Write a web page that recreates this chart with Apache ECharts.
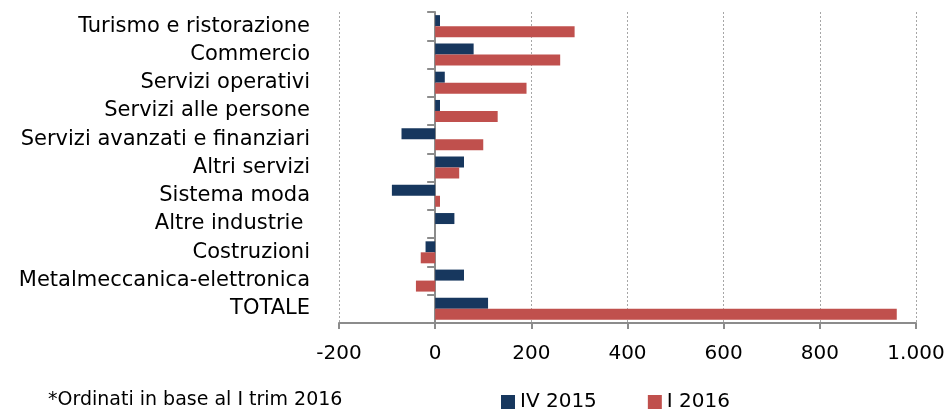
<!DOCTYPE html>
<html>
<head>
<meta charset="utf-8">
<script src="https://cdn.jsdelivr.net/npm/echarts@6/dist/echarts.min.js"></script>
<style>
    html, body { margin: 0; padding: 0; background: #fff; }
    #chart { width: 949px; height: 410px; }
</style>
</head>
<body>
<div id="chart"></div>
<script>
// categories, top to bottom
const categories = [
    'Turismo e ristorazione',
    'Commercio',
    'Servizi operativi',
    'Servizi alle persone',
    'Servizi avanzati e finanziari',
    'Altri servizi',
    'Sistema moda',
    'Altre industrie ',
    'Costruzioni',
    'Metalmeccanica-elettronica',
    'TOTALE'
];
const iv2015 = [10, 80, 20, 10, -70, 60, -90, 40, -20, 60, 110];
const i2016 = [290, 260, 190, 130, 100, 50, 10, 0, -30, -40, 960];
const xTicks = [-200, 0, 200, 400, 600, 800, 1000];

const font = '"DejaVu Sans", sans-serif';
const axisGray = '#8c8c8c';

const myChart = echarts.init(document.getElementById('chart'));

const option = {
    animation: false,
    textStyle: { fontFamily: font },
    grid: { left: 339, right: 33, top: 12, bottom: 87 },
    legend: {
        left: 496,
        top: 387,
        icon: 'rect',
        itemWidth: 14,
        itemHeight: 14,
        itemGap: 51,
        textStyle: { fontSize: 20, color: '#000', fontFamily: font },
        data: ['IV 2015', 'I 2016']
    },
    graphic: [{
        type: 'text',
        left: 48,
        top: 391,
        style: { text: '*Ordinati in base al I trim 2016', fontSize: 19, fill: '#000', fontFamily: font }
    }],
    xAxis: {
        type: 'value',
        min: xTicks[0],
        max: xTicks[xTicks.length - 1],
        interval: 200,
        axisLine: { show: true, onZero: false, lineStyle: { color: axisGray, width: 2 } },
        axisTick: { show: true, length: 6, lineStyle: { color: axisGray, width: 2 } },
        axisLabel: {
            fontSize: 20,
            color: '#000',
            margin: 21,
            formatter: v => String(v).replace(/\B(?=(\d{3})+(?!\d))/g, '.')
        },
        splitLine: { show: true, lineStyle: { color: '#a6a6a6', type: [2, 2], width: 1 } }
    },
    yAxis: [
        {
            // zero line with ticks between categories
            type: 'category',
            data: categories,
            inverse: true,
            axisLine: { show: true, onZero: true, lineStyle: { color: axisGray, width: 2 } },
            axisTick: { show: true, length: 8, lineStyle: { color: axisGray, width: 2 } },
            axisLabel: { show: false }
        },
        {
            // category labels at the left edge
            type: 'category',
            data: categories,
            inverse: true,
            position: 'left',
            axisLine: { show: false, onZero: false },
            axisTick: { show: false },
            axisLabel: { fontSize: 21, color: '#000', margin: 29 }
        }
    ],
    series: [
        {
            name: 'IV 2015',
            type: 'bar',
            data: iv2015,
            barWidth: 11,
            barGap: '0%',
            itemStyle: { color: '#17375e' }
        },
        {
            name: 'I 2016',
            type: 'bar',
            data: i2016,
            barWidth: 11,
            barGap: '0%',
            itemStyle: { color: '#c0504d' }
        }
    ]
};

myChart.setOption(option);
</script>
</body>
</html>
